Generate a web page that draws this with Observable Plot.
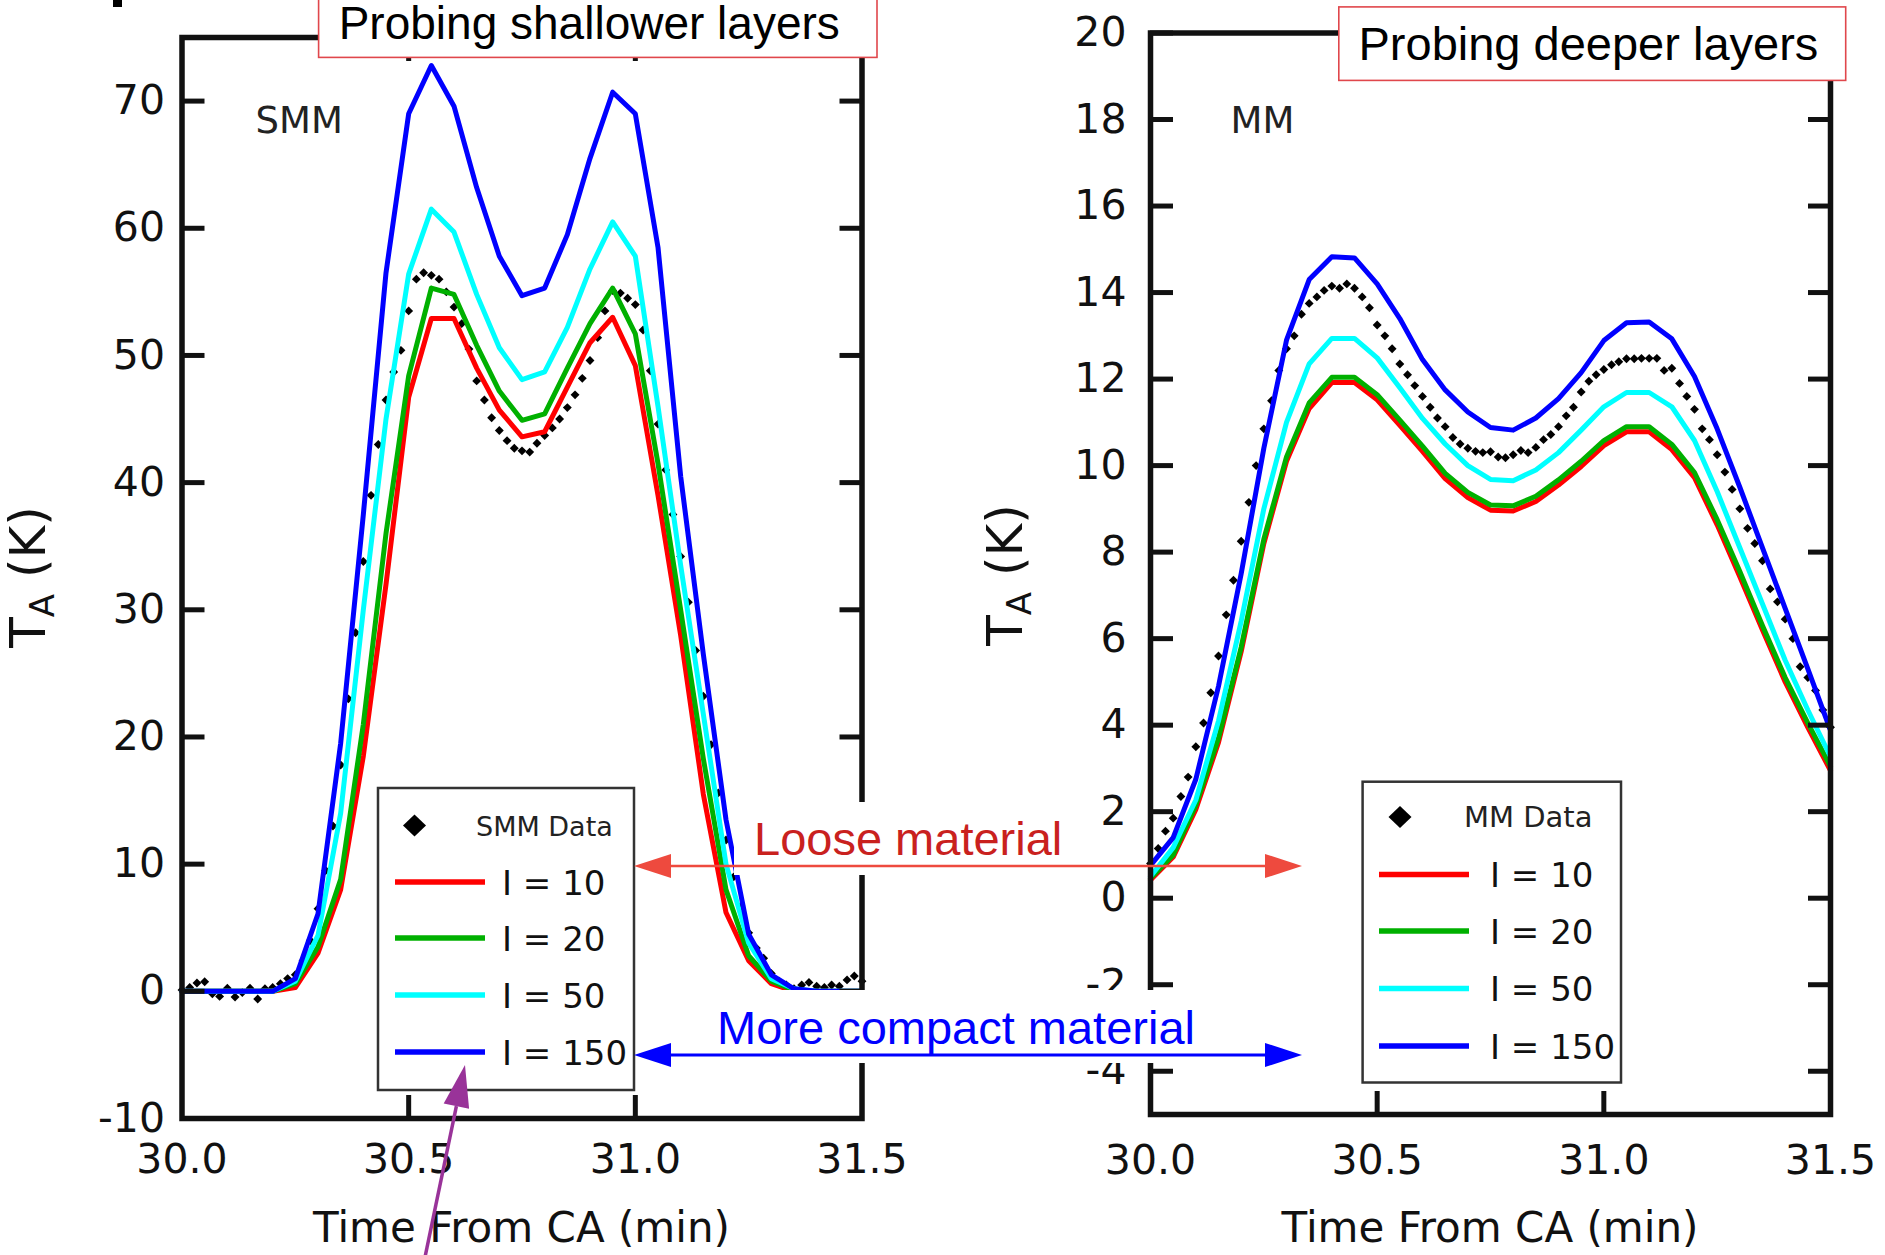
<!DOCTYPE html>
<html><head><meta charset="utf-8">
<script src="https://cdn.jsdelivr.net/npm/d3@7"></script>
<script src="https://cdn.jsdelivr.net/npm/@observablehq/plot@0.6"></script>
<style>
html,body{margin:0;padding:0;background:#fff;}
#root{position:relative;width:1885px;height:1255px;overflow:hidden;background:#fff;}
#root svg{position:absolute;top:0;}
</style></head><body><div id="root"></div>
<script>
// ---------- data ----------
const seriesLabels = ["I = 10", "I = 20", "I = 50", "I = 150"];
const seriesColors = ["#ff0000", "#00b000", "#00ffff", "#0000ff"];
const xTicks = [30.0, 30.5, 31.0, 31.5];
const yTicksSMM = [-10, 0, 10, 20, 30, 40, 50, 60, 70];
const yTicksMM = [-4, -2, 0, 2, 4, 6, 8, 10, 12, 14, 16, 18, 20];

const tModel = [30.00,30.05,30.10,30.15,30.20,30.25,30.30,30.35,30.40,30.45,30.50,30.55,30.60,30.65,30.70,30.75,30.80,30.85,30.90,30.95,31.00,31.05,31.10,31.15,31.20,31.25,31.30,31.35,31.40,31.45,31.50];

const smmL10  = [0,0,0,0,0,0.3,3.0,8.0,18.5,32.0,46.7,52.9,52.9,49.0,45.7,43.6,44.0,47.5,51.0,53.0,49.2,39.0,28.0,15.5,6.2,2.4,0.6,0,0,0,0];
const smmL20  = [0,0,0,0,0,0.6,3.5,8.8,21.0,36.0,48.4,55.3,54.8,50.8,47.2,44.9,45.4,49.0,52.5,55.3,51.7,41.5,30.0,18.3,8.0,2.8,0.8,0.1,0,0,0];
const smmL50  = [0,0,0,0,0,0.8,4.4,14.0,30.0,45.0,56.4,61.5,59.7,54.8,50.6,48.1,48.7,52.2,56.8,60.5,57.8,46.0,33.5,21.8,10.0,3.8,1.0,0.2,0,0,0];
const smmL150 = [0,0,0,0,0,1.0,6.1,19.5,37.5,56.5,69.0,72.8,69.6,63.2,57.8,54.7,55.3,59.5,65.5,70.7,69.0,58.5,40.5,26.5,13.5,4.5,1.3,0.2,0,0,0];

const mmL10  = [0.42,0.95,2.05,3.6,5.7,8.2,10.1,11.32,11.92,11.92,11.52,10.93,10.33,9.7,9.26,8.97,8.95,9.17,9.55,9.98,10.46,10.78,10.78,10.37,9.72,8.63,7.43,6.2,5.0,3.95,2.95];
const mmL20  = [0.46,1.0,2.15,3.7,5.8,8.3,10.2,11.45,12.04,12.04,11.64,11.05,10.45,9.82,9.38,9.09,9.07,9.29,9.67,10.1,10.58,10.9,10.9,10.49,9.84,8.75,7.55,6.3,5.1,4.05,3.05];
const mmL50  = [0.5,1.17,2.27,4.1,6.4,9.0,11.0,12.35,12.94,12.94,12.49,11.8,11.09,10.5,10.0,9.68,9.65,9.9,10.3,10.82,11.36,11.69,11.69,11.36,10.58,9.4,8.1,6.8,5.5,4.35,3.27];
const mmL150 = [0.76,1.4,2.75,4.9,7.5,10.4,12.9,14.3,14.83,14.8,14.2,13.4,12.45,11.75,11.24,10.88,10.82,11.1,11.55,12.15,12.89,13.3,13.32,12.93,12.06,10.85,9.5,8.1,6.7,5.3,3.88];

const tData = [30.000,30.017,30.033,30.050,30.067,30.083,30.100,30.117,30.133,30.150,30.167,30.183,30.200,30.217,30.233,30.250,30.267,30.283,30.300,30.317,30.333,30.350,30.367,30.383,30.400,30.417,30.433,30.450,30.467,30.483,30.500,30.517,30.533,30.550,30.567,30.583,30.600,30.617,30.633,30.650,30.667,30.683,30.700,30.717,30.733,30.750,30.767,30.783,30.800,30.817,30.833,30.850,30.867,30.883,30.900,30.917,30.933,30.950,30.967,30.983,31.000,31.017,31.033,31.050,31.067,31.083,31.100,31.117,31.133,31.150,31.167,31.183,31.200,31.217,31.233,31.250,31.267,31.283,31.300,31.317,31.333,31.350,31.367,31.383,31.400,31.417,31.433,31.450,31.467,31.483,31.500];

const smmData = [0.1,0.3,0.65,0.75,-0.2,-0.4,0.25,-0.45,-0.1,0.25,
  -0.6,0.2,0.3,0.6,1.0,1.3,2.4,4.0,6.5,9.5,
  13.0,17.8,23.0,28.2,33.8,39.0,43.0,46.5,48.7,50.4,
  53.5,56.0,56.5,56.3,56.0,55.0,53.8,52.5,50.5,48.0,
  46.5,45.1,44.1,43.3,42.7,42.5,42.4,43.1,43.7,44.3,
  45.0,45.9,46.9,48.2,49.6,51.4,53.5,55.1,54.9,54.5,
  54.0,52.0,48.8,44.6,41.0,37.5,34.2,30.6,26.8,23.2,
  19.4,15.6,11.9,9.0,6.7,4.6,3.4,2.6,1.4,0.8,
  0.5,0.2,0.5,0.7,0.4,0.3,0.5,0.4,0.9,1.2,0.8];

const mmData = [0.8,1.15,1.55,1.85,2.35,2.8,3.5,4.05,4.75,5.6,
  6.55,7.35,8.25,9.15,10.0,10.85,11.5,12.2,12.7,13.0,
  13.5,13.75,13.9,14.05,14.15,14.1,14.2,14.1,13.9,13.65,
  13.25,13.0,12.7,12.35,12.1,11.85,11.6,11.35,11.1,10.9,
  10.65,10.5,10.4,10.33,10.3,10.32,10.2,10.18,10.25,10.35,
  10.3,10.42,10.6,10.72,10.9,11.15,11.35,11.7,11.95,12.1,
  12.22,12.33,12.4,12.47,12.47,12.48,12.48,12.48,12.2,12.25,
  11.9,11.6,11.3,10.85,10.6,10.25,9.85,9.45,9.0,8.55,
  8.2,7.8,7.15,6.85,6.45,6.0,5.35,5.1,4.8,4.35,3.95];

// ---------- panels ----------
function makePanel(cfg) {
  const pts = tData.map((t, j) => ({t, v: cfg.data[j]}));
  const lines = cfg.series.map((vals, i) =>
    Plot.line(tModel.map((t, j) => ({t, v: vals[j]})), {x: "t", y: "v", stroke: seriesColors[i], strokeWidth: 5}));
  const tickOpts = {tickSize: -23, fill: "none", strokeWidth: 5, label: null, stroke: "#111"};
  return Plot.plot({
    width: cfg.width, height: 1255,
    marginLeft: cfg.mL, marginRight: cfg.mR, marginTop: cfg.mT, marginBottom: cfg.mB,
    x: {domain: [30, 31.5]},
    y: {domain: cfg.yDomain},
    style: {fontFamily: "DejaVu Sans", fontSize: "41px", color: "#111", background: "transparent", overflow: "visible"},
    marks: [
      Plot.dot(pts, {x: "t", y: "v", symbol: "diamond2", r: 4, fill: "#000", stroke: "none"}),
      ...lines,
      Plot.frame({stroke: "#111", strokeWidth: 5.5}),
      Plot.axisY(cfg.yTicks, {anchor: "left", tickSize: 0, tickPadding: cfg.yPad, fontSize: 41, label: null, tickFormat: d => String(d)}),
      Plot.axisY(cfg.yTicks, {anchor: "left", ...tickOpts}),
      Plot.axisY(cfg.yTicks, {anchor: "right", ...tickOpts}),
      Plot.axisX(xTicks, {anchor: "bottom", tickSize: 0, tickPadding: cfg.xPad, fontSize: 41, tickFormat: d => d.toFixed(1), label: null}),
      Plot.axisX([30.5, 31.0], {anchor: "bottom", ...tickOpts}),
      Plot.axisX([30.5, 31.0], {anchor: "top", ...tickOpts}),
      Plot.text([cfg.name], {frameAnchor: "top-left", dx: cfg.nameDx, dy: cfg.nameDy, textAnchor: "start", lineAnchor: "bottom", fontSize: 37, fill: "#222"})
    ]
  });
}

const root = document.getElementById("root");
const left = makePanel({width: 900, mL: 181.5, mR: 38.5, mT: 37, mB: 137, yDomain: [-10, 75], yTicks: yTicksSMM, yPad: 17, xPad: 25,
  series: [smmL10, smmL20, smmL50, smmL150], data: smmData, name: "SMM", nameDx: 73.5, nameDy: 95});
left.style.left = "0px";
root.appendChild(left);

const right = makePanel({width: 935, mL: 200, mR: 55, mT: 32.5, mB: 141, yDomain: [-5, 20], yTicks: yTicksMM, yPad: 24, xPad: 30,
  series: [mmL10, mmL20, mmL50, mmL150], data: mmData, name: "MM", nameDx: 80, nameDy: 99.5});
right.style.left = "950px";
root.appendChild(right);

// ---------- overlay: titles, legends, annotations ----------
function legend(x0, y0, w, h, dx, dy, dataLabel, dataSize, lineX1, lineX2, lineYs, labelX) {
  let s = `<rect x="${x0}" y="${y0}" width="${w}" height="${h}" fill="#fff" stroke="#333" stroke-width="2.5"/>`;
  s += `<polygon points="${dx},${dy-11} ${dx+11.5},${dy} ${dx},${dy+11} ${dx-11.5},${dy}" fill="#000"/>`;
  s += `<text x="${labelX - 26}" y="${dy + 10}" font-family="DejaVu Sans" font-size="${dataSize}" fill="#222">${dataLabel}</text>`;
  lineYs.forEach((ly, i) => {
    s += `<line x1="${lineX1}" x2="${lineX2}" y1="${ly}" y2="${ly}" stroke="${seriesColors[i]}" stroke-width="5.5"/>`;
    s += `<text x="${labelX}" y="${ly + 12.5}" font-family="DejaVu Sans" font-size="34" fill="#111" style="white-space:pre">${seriesLabels[i]}</text>`;
  });
  return s;
}
function hArrow(y, x1, x2, color, w) {
  return `<line x1="${x1 + 36}" x2="${x2 - 36}" y1="${y}" y2="${y}" stroke="${color}" stroke-width="${w}"/>` +
    `<polygon points="${x1},${y} ${x1 + 37},${y - 12} ${x1 + 37},${y + 12}" fill="${color}"/>` +
    `<polygon points="${x2},${y} ${x2 - 37},${y - 12} ${x2 - 37},${y + 12}" fill="${color}"/>`;
}
const yTitle = (x, y) => `<text transform="translate(${x},${y}) rotate(-90)" text-anchor="middle" font-family="DejaVu Sans" font-size="50" fill="#111" style="white-space:pre">T<tspan font-size="34" dy="9">A</tspan><tspan dy="-9"> (K)</tspan></text>`;

let ov = `<svg xmlns="http://www.w3.org/2000/svg" width="1885" height="1255" style="left:0;top:0">`;
ov += `<rect x="113" y="0" width="9" height="7" fill="#000"/>`;
ov += yTitle(45, 577) + yTitle(1022, 575);
ov += `<text x="521.5" y="1242" text-anchor="middle" font-family="DejaVu Sans" font-size="42" fill="#111">Time From CA (min)</text>`;
ov += `<text x="1490" y="1242" text-anchor="middle" font-family="DejaVu Sans" font-size="42" fill="#111">Time From CA (min)</text>`;
ov += legend(378, 788, 256, 302, 414.5, 825.6, "SMM Data", 27, 395, 485, [882, 938, 995, 1052], 502);
ov += legend(1362.6, 781.7, 258.4, 300.8, 1400, 817, "MM Data", 29, 1379, 1469, [874.4, 931, 988.5, 1046], 1490);
// annotation boxes
ov += `<rect x="318.6" y="-20" width="558.4" height="77.4" fill="#fff" stroke="#e0474c" stroke-width="1.6"/>`;
ov += `<text x="338.7" y="39" font-family="Liberation Sans" font-size="46" fill="#000">Probing shallower layers</text>`;
ov += `<rect x="1338.8" y="6.9" width="506.9" height="73.5" fill="#fff" stroke="#e0474c" stroke-width="1.6"/>`;
ov += `<text x="1358.5" y="59.5" font-family="Liberation Sans" font-size="47" fill="#000">Probing deeper layers</text>`;
ov += `<rect x="734" y="802" width="351" height="73" fill="#fff"/>`;
ov += `<text x="754" y="855" font-family="Liberation Sans" font-size="47" fill="#c9211e">Loose material</text>`;
ov += `<rect x="697" y="990" width="524" height="73" fill="#fff"/>`;
ov += `<text x="717" y="1043.5" font-family="Liberation Sans" font-size="47" fill="#0000ff">More compact material</text>`;
ov += hArrow(866, 634, 1302, "#ee4a3e", 2.5);
ov += hArrow(1055, 634, 1302, "#0000ff", 3);
// purple pointer
ov += `<line x1="424" y1="1262" x2="456.4" y2="1106.1" stroke="#993399" stroke-width="3.5"/>`;
ov += `<polygon points="465,1065 469.1,1108.8 443.7,1103.4" fill="#993399"/>`;
ov += `</svg>`;
root.insertAdjacentHTML("beforeend", ov);
</script></body></html>
